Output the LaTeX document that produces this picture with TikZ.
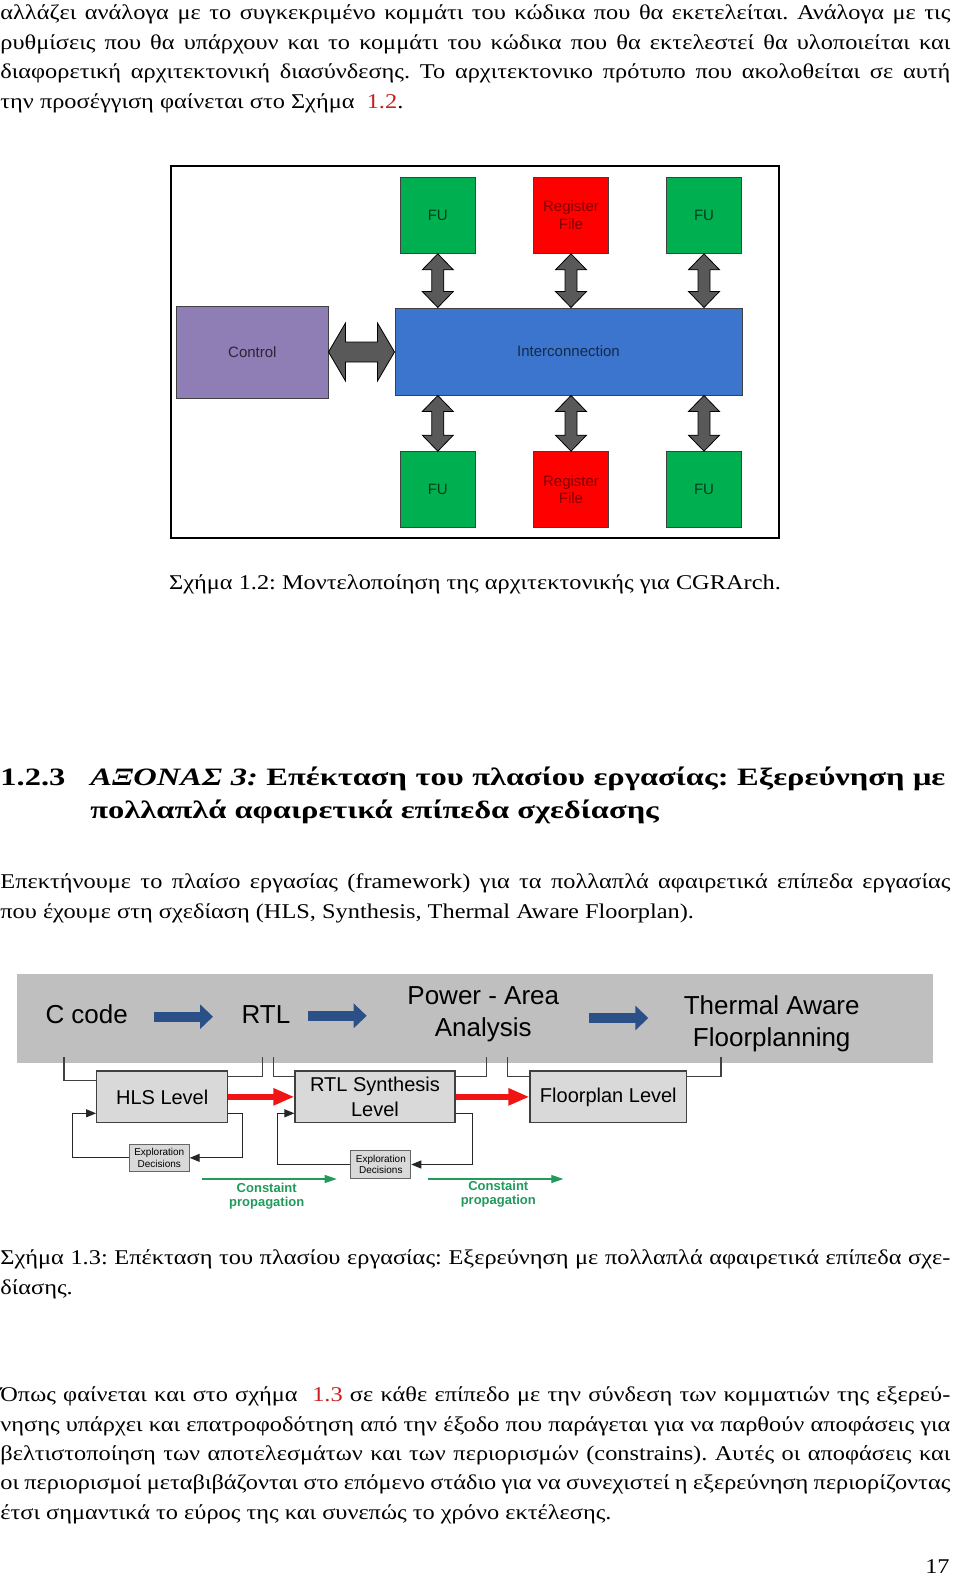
\documentclass[tikz,border=0pt]{standalone}
\usepackage{fontspec}
\setmainfont{Liberation Serif}[FakeStretch=1.16]
\setsansfont{Liberation Sans}
\newfontfamily\headfont{Liberation Serif}[FakeStretch=1.3]
\usepackage{xcolor}
\usetikzlibrary{arrows.meta,calc}
\frenchspacing

\definecolor{fugreen}{HTML}{00B050}
\definecolor{rfred}{HTML}{FF0000}
\definecolor{icblue}{HTML}{3B75CD}
\definecolor{ctrlpurple}{HTML}{8F7DB5}
\definecolor{arrowgray}{HTML}{595959}
\definecolor{bandgray}{HTML}{BFBFBF}
\definecolor{levelgray}{HTML}{D9D9D9}
\definecolor{flowblue}{HTML}{2A5087}
\definecolor{stagered}{HTML}{F01414}
\definecolor{propgreen}{HTML}{219A5C}
\definecolor{refred}{HTML}{C81E1E}

\tikzset{
    body-line/.style = {anchor=base west, inner sep=0pt, font=\fontsize{10.5}{14.8}\selectfont},
    head-line/.style = {anchor=base west, inner sep=0pt, font=\headfont\bfseries\fontsize{12.5}{15}\selectfont},
    unit-box/.style = {draw=black!75, line width=0.5pt, inner sep=0pt, align=center, font=\sffamily\fontsize{7.5}{8.8}\selectfont},
    fu-box/.style = {unit-box, fill=fugreen, text=fugreen!35!black, minimum width=37.8pt, minimum height=38pt},
    rf-box/.style = {unit-box, fill=rfred, text=rfred!50!black, minimum width=37.8pt, minimum height=38pt},
    ic-box/.style = {unit-box, fill=icblue, text=icblue!35!black, minimum width=173.5pt, minimum height=43.5pt},
    ctrl-box/.style = {unit-box, fill=ctrlpurple, text=ctrlpurple!30!black, minimum width=75.6pt, minimum height=46pt},
    block-arrow/.style = {fill=arrowgray, draw=black, line width=0.4pt},
    band/.style = {fill=bandgray, inner sep=0pt, minimum width=458.3pt, minimum height=44.65pt},
    band-text/.style = {inner sep=0pt, align=center, font=\sffamily\fontsize{13}{15.8}\selectfont},
    flow-arrow/.style = {draw=flowblue, line width=5pt, -{Triangle[length=6.5pt,width=12pt]}},
    level-box/.style = {draw=black!75, fill=levelgray, line width=0.6pt, inner sep=0pt, minimum height=25.85pt, align=center, font=\sffamily\fontsize{10}{12.2}\selectfont},
    expl-box/.style = {draw=black!60, fill=levelgray, line width=0.4pt, inner sep=0pt, minimum width=30pt, minimum height=13.85pt, align=center, font=\sffamily\fontsize{5}{5.8}\selectfont},
    bracket/.style = {draw=black!75, line width=0.75pt},
    stage-arrow/.style = {draw=stagered, line width=3pt, -{Triangle[length=10.5pt,width=8pt]}},
    feedback/.style = {draw=black!85, line width=0.5pt, -{Triangle[length=5pt,width=4pt]}},
    prop-arrow/.style = {draw=propgreen, line width=0.6pt, -{Triangle[length=6pt,width=4pt]}},
    prop-text/.style = {inner sep=0pt, align=center, text=propgreen, font=\sffamily\bfseries\fontsize{6.5}{7.2}\selectfont},
}

% justified line of the page
\newcommand{\fullline}[1]{\makebox[475pt][s]{#1}}
\newcommand{\vblockarrow}[2]{%
  \path[block-arrow] let \p1=(#1), \p2=(#2) in
    (\x1,\y1) -- (\x1+7.75pt,\y1-8pt) -- (\x1+3pt,\y1-8pt) -- (\x1+3pt,\y2+8pt)
    -- (\x1+7.75pt,\y2+8pt) -- (\x1,\y2) -- (\x1-7.75pt,\y2+8pt) -- (\x1-3pt,\y2+8pt)
    -- (\x1-3pt,\y1-8pt) -- (\x1-7.75pt,\y1-8pt) -- cycle;}
\newcommand{\hblockarrow}[2]{%
  \path[block-arrow] let \p1=(#1), \p2=(#2) in
    (\x1,\y1) -- (\x1+8.5pt,\y1+14.5pt) -- (\x1+8.5pt,\y1+5pt) -- (\x2-8.5pt,\y1+5pt)
    -- (\x2-8.5pt,\y1+14.5pt) -- (\x2,\y1) -- (\x2-8.5pt,\y1-14.5pt) -- (\x2-8.5pt,\y1-5pt)
    -- (\x1+8.5pt,\y1-5pt) -- (\x1+8.5pt,\y1-14.5pt) -- cycle;}

\begin{document}
\begin{tikzpicture}[x=0.5pt,y=-0.5pt]
\useasboundingbox (0,0) rectangle (960,1578);

% text above figure 1.2
\node[body-line] (p1-a) at (0,20) {\fullline{αλλάζει ανάλογα με το συγκεκριμένο κομμάτι του κώδικα που θα εκετελείται. Ανάλογα με τις}};
\node[body-line] (p1-b) at (0,49.5) {\fullline{ρυθμίσεις που θα υπάρχουν και το κομμάτι του κώδικα που θα εκτελεστεί θα υλοποιείται και}};
\node[body-line] (p1-c) at (0,79) {\fullline{διαφορετική αρχιτεκτονική διασύνδεσης. Το αρχιτεκτονικο πρότυπο που ακολοθείται σε αυτή}};
\node[body-line] (p1-d) at (0,108.5) {την προσέγγιση φαίνεται στο Σχήμα \ \textcolor{refred}{1.2}.};

% figure 1.2
\draw[line width=0.75pt] (171,166) rectangle (779,538);
\node[fu-box] (fu-tl) at (437.8,215.3) {FU};
\node[rf-box] (rf-t) at (571,215.3) {Register\\File};
\node[fu-box] (fu-tr) at (704,215.3) {FU};
\node[ic-box] (ic) at (568.5,351.5) {Interconnection};
\node[ctrl-box] (ctrl) at (252.4,352) {Control};
\node[fu-box] (fu-bl) at (437.8,489.7) {FU};
\node[rf-box] (rf-b) at (571,489.7) {Register\\File};
\node[fu-box] (fu-br) at (704,489.7) {FU};

\vblockarrow{fu-tl.south}{fu-tl.south |- ic.north}
\vblockarrow{rf-t.south}{rf-t.south |- ic.north}
\vblockarrow{fu-tr.south}{fu-tr.south |- ic.north}
\vblockarrow{fu-bl.north |- ic.south}{fu-bl.north}
\vblockarrow{rf-b.north |- ic.south}{rf-b.north}
\vblockarrow{fu-br.north |- ic.south}{fu-br.north}
\hblockarrow{ctrl.east}{ic.west}

\node[anchor=base, inner sep=0pt, font=\fontsize{10.5}{14.8}\selectfont] (cap-a) at (475,589) {Σχήμα 1.2: Μοντελοποίηση της αρχιτεκτονικής για CGRArch.};

% section heading
\node[head-line] (sec-num) at (0,785) {1.2.3};
\node[head-line] (sec-a) at (90,785) {\makebox[427.5pt][s]{\textit{ΑΞΟΝΑΣ 3:} Επέκταση του πλασίου εργασίας: Εξερεύνηση με}};
\node[head-line] (sec-b) at (90,818.5) {πολλαπλά αφαιρετικά επίπεδα σχεδίασης};

\node[body-line] (p2-a) at (0,888.3) {\fullline{Επεκτήνουμε το πλαίσο εργασίας (framework) για τα πολλαπλά αφαιρετικά επίπεδα εργασίας}};
\node[body-line] (p2-b) at (0,918) {που έχουμε στη σχεδίαση (HLS, Synthesis, Thermal Aware Floorplan).};

% figure 1.3
\node[band] (band) at (475,1018.7) {};
\node[band-text] (ccode) at (86.7,1014.5) {C code};
\node[band-text] (rtl) at (266,1014.5) {RTL};
\node[band-text] (power) at (483.3,1014) {Power - Area\\Analysis};
\node[band-text] (thermal) at (771.7,1024) {Thermal Aware\\Floorplanning};

\coordinate (f1-s) at (154,1016.7);
\coordinate (f1-e) at (213,1016.7);
\coordinate (f2-s) at (308,1015.8);
\coordinate (f2-e) at (366.7,1015.8);
\coordinate (f3-s) at (589.3,1018);
\coordinate (f3-e) at (648.3,1018);
\draw[flow-arrow] (f1-s) -- (f1-e);
\draw[flow-arrow] (f2-s) -- (f2-e);
\draw[flow-arrow] (f3-s) -- (f3-e);

\node[level-box, minimum width=65.5pt] (hls) at (162.2,1096.85) {HLS Level};
\node[level-box, minimum width=80pt] (rtlsyn) at (375,1096.85) {RTL Synthesis\\Level};
\node[level-box, minimum width=78.35pt] (floor) at (608.35,1096.85) {Floorplan Level};

\coordinate (ccode-out) at (64,1057);
\coordinate (rtl-out) at (262.3,1057);
\coordinate (rtl-in) at (273.3,1057);
\coordinate (power-out) at (486.7,1057);
\coordinate (power-in) at (507.7,1057);
\coordinate (thermal-out) at (721,1057);
\draw[bracket] (ccode-out) |- ([yshift=-5pt]hls.north west);
\draw[bracket] (rtl-out) |- ([yshift=-3pt]hls.north east);
\draw[bracket] (rtl-in) |- ([yshift=-3pt]rtlsyn.north west);
\draw[bracket] (power-out) |- ([yshift=-3pt]rtlsyn.north east);
\draw[bracket] (power-in) |- ([yshift=-3pt]floor.north west);
\draw[bracket] (thermal-out) |- ([yshift=-3pt]floor.north east);

\draw[stage-arrow] (hls) -- (rtlsyn);
\draw[stage-arrow] (rtlsyn) -- (floor);

\node[expl-box] (expl-1) at (159.3,1157.85) {Exploration\\Decisions};
\node[expl-box] (expl-2) at (380.85,1164.5) {Exploration\\Decisions};
\draw[feedback] ([yshift=5pt]hls.south east) -- ++(14.6,0) |- (expl-1.east);
\draw[feedback] (expl-1.west) -- ++(-56.6,0) |- ([yshift=5pt]hls.south west);
\draw[feedback] ([yshift=5pt]rtlsyn.south east) -- ++(17.3,0) |- (expl-2.east);
\draw[feedback] (expl-2.west) -- ++(-73.3,0) |- ([yshift=5pt]rtlsyn.south west);

\coordinate (p1-s) at (201.7,1179);
\coordinate (p1-e) at (336.7,1179);
\coordinate (p2-s) at (428.3,1179);
\coordinate (p2-e) at (563.3,1179);
\draw[prop-arrow] (p1-s) -- (p1-e);
\draw[prop-arrow] (p2-s) -- (p2-e);
\node[prop-text] (prop-1) at (266.7,1196) {Constaint\\propagation};
\node[prop-text] (prop-2) at (498.3,1194) {Constaint\\propagation};

\node[body-line] (cap-b) at (0,1264.5) {\fullline{Σχήμα 1.3: Επέκταση του πλασίου εργασίας: Εξερεύνηση με πολλαπλά αφαιρετικά επίπεδα σχε-}};
\node[body-line] (cap-c) at (0,1294) {δίασης.};

% text below figure 1.3
\node[body-line] (p3-a) at (0,1401.7) {\fullline{Όπως φαίνεται και στο σχήμα \ \textcolor{refred}{1.3} σε κάθε επίπεδο με την σύνδεση των κομματιών της εξερεύ-}};
\node[body-line] (p3-b) at (0,1431) {\fullline{νησης υπάρχει και επατροφοδότηση από την έξοδο που παράγεται για να παρθούν αποφάσεις για}};
\node[body-line] (p3-c) at (0,1460.3) {\fullline{βελτιστοποίηση των αποτελεσμάτων και των περιορισμών (constrains). Αυτές οι αποφάσεις και}};
\node[body-line] (p3-d) at (0,1489.6) {\fullline{οι περιορισμοί μεταβιβάζονται στο επόμενο στάδιο για να συνεχιστεί η εξερεύνηση περιορίζοντας}};
\node[body-line] (p3-e) at (0,1519) {έτσι σημαντικά το εύρος της και συνεπώς το χρόνο εκτέλεσης.};

\node[body-line, anchor=base east] (page-num) at (950,1573) {17};
\end{tikzpicture}
\end{document}
